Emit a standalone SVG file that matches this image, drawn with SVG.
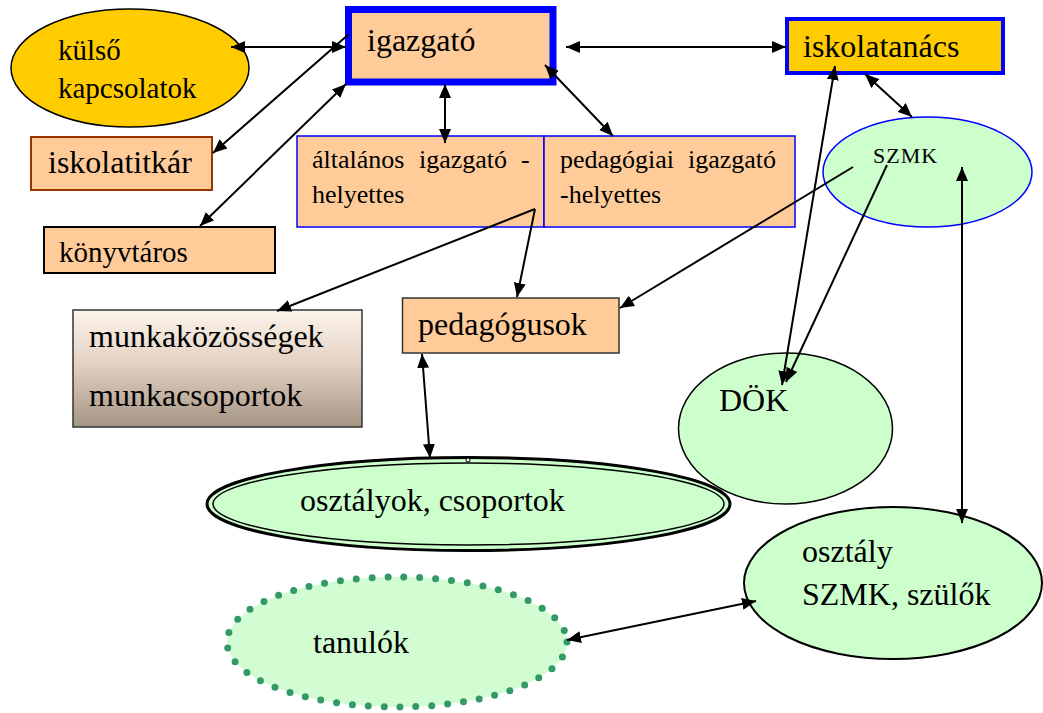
<svg xmlns="http://www.w3.org/2000/svg" width="1043" height="713" viewBox="0 0 1043 713" font-family="'Liberation Serif', 'Times New Roman', serif">
<style>
text{font-family:'Liberation Serif','Times New Roman',serif;fill:#000}
.peach{fill:#FFCC99}
.green{fill:#CCFFCC}
.ln{stroke:#000;stroke-width:2;fill:none}
.t32{font-size:32px}
.t29{font-size:29px}
.t26{font-size:26px}
</style>
<defs>
<marker id="ah" viewBox="0 0 14 12" refX="14" refY="6" markerWidth="7" markerHeight="6" orient="auto-start-reverse" markerUnits="strokeWidth">
<path d="M0,0 L14,6 L0,12 z" fill="#000"/>
</marker>
<linearGradient id="gr" x1="0" y1="0" x2="0" y2="1">
<stop offset="0" stop-color="#FDF4EA"/>
<stop offset="0.45" stop-color="#E4D2C4"/>
<stop offset="1" stop-color="#A59585"/>
</linearGradient>
</defs>
<rect width="1043" height="713" fill="#fff"/>

<g id="kulso">
<ellipse cx="130" cy="68" rx="119" ry="59" fill="#FFCC00" stroke="#000" stroke-width="1.5"/>
<text class="t29" x="58" y="60">külső</text>
<text class="t29" x="58" y="98">kapcsolatok</text>
</g>
<g id="igazgato">
<rect x="348.5" y="9.5" width="204.5" height="72.5" class="peach" stroke="#0000FF" stroke-width="7"/>
<text class="t32" x="367" y="51">igazgató</text>
</g>
<g id="iskolatanacs">
<rect x="787" y="19" width="216" height="54" fill="#FFCC00" stroke="#0000FF" stroke-width="4"/>
<text class="t32" x="803" y="57">iskolatanács</text>
</g>
<g id="iskolatitkar">
<rect x="31" y="137" width="181" height="53" class="peach" stroke="#993300" stroke-width="2"/>
<text class="t32" x="48" y="173">iskolatitkár</text>
</g>
<g id="konyvtaros">
<rect x="44" y="227" width="231" height="46" class="peach" stroke="#000" stroke-width="2"/>
<text class="t29" x="59" y="262">könyvtáros</text>
</g>
<g id="altalanos">
<rect x="297" y="136" width="247" height="91" class="peach" stroke="#0000FF" stroke-width="1.5"/>
<text class="t26" y="168"><tspan x="312">általános</tspan><tspan x="419">igazgató</tspan><tspan x="521">-</tspan></text>
<text class="t26" x="312" y="203">helyettes</text>
</g>
<g id="pedagogiai">
<rect x="544" y="136" width="251" height="91" class="peach" stroke="#0000FF" stroke-width="1.5"/>
<text class="t26" y="168"><tspan x="560">pedagógiai</tspan><tspan x="688">igazgató</tspan></text>
<text class="t26" x="560" y="203">-helyettes</text>
</g>
<g id="szmk">
<ellipse cx="927.5" cy="172" rx="104.5" ry="55" class="green" stroke="#0000FF" stroke-width="1.5"/>
<text x="873" y="163" font-size="22" letter-spacing="1">SZMK</text>
</g>
<g id="munkakozossegek">
<rect x="73" y="310" width="289" height="117" fill="url(#gr)" stroke="#333" stroke-width="1.5"/>
<text class="t32" x="89" y="347">munkaközösségek</text>
<text class="t32" x="89" y="406">munkacsoportok</text>
</g>
<g id="pedagogusok">
<rect x="402.5" y="298" width="216.5" height="55" class="peach" stroke="#333" stroke-width="1.5"/>
<text class="t32" x="418" y="335">pedagógusok</text>
</g>
<g id="dok">
<ellipse cx="785.5" cy="428.5" rx="107" ry="75.5" class="green" stroke="#000" stroke-width="1.5"/>
<text class="t32" x="719" y="411">DÖK</text>
</g>
<g id="osztalyok">
<ellipse cx="468.5" cy="504" rx="261.5" ry="46.5" class="green" stroke="#000" stroke-width="3"/>
<ellipse cx="468.5" cy="504" rx="255.5" ry="41" fill="none" stroke="#000" stroke-width="1.5"/>
<circle cx="468" cy="460" r="2" fill="#fff" stroke="#000" stroke-width="1"/>
<text class="t32" x="300" y="511">osztályok, csoportok</text>
</g>
<g id="osztaly-szmk">
<ellipse cx="893" cy="583" rx="149" ry="76" class="green" stroke="#000" stroke-width="2"/>
<text class="t32" x="802" y="562">osztály</text>
<text class="t32" x="802" y="605">SZMK, szülők</text>
</g>
<g id="tanulok">
<ellipse cx="397" cy="642" rx="170" ry="65" fill="#D2FCD2" stroke="#339966" stroke-width="7" stroke-linecap="round" stroke-dasharray="0 15.9"/>
<text class="t32" x="313" y="653">tanulók</text>
</g>

<g id="connectors" class="ln">
<line x1="231" y1="47" x2="346" y2="47" marker-start="url(#ah)" marker-end="url(#ah)"/>
<line x1="566" y1="47" x2="786" y2="47" marker-start="url(#ah)" marker-end="url(#ah)"/>
<line x1="349" y1="34" x2="213" y2="153" marker-end="url(#ah)"/>
<line x1="346" y1="84" x2="200" y2="226" marker-start="url(#ah)" marker-end="url(#ah)"/>
<line x1="445" y1="84" x2="445" y2="143" marker-start="url(#ah)" marker-end="url(#ah)"/>
<line x1="545" y1="65" x2="613" y2="136" marker-start="url(#ah)" marker-end="url(#ah)"/>
<line x1="535" y1="209" x2="277" y2="311" marker-end="url(#ah)"/>
<line x1="535" y1="209" x2="517" y2="297" marker-end="url(#ah)"/>
<line x1="865" y1="74" x2="912" y2="117" marker-start="url(#ah)" marker-end="url(#ah)"/>
<line x1="835" y1="66" x2="782" y2="385" marker-start="url(#ah)" marker-end="url(#ah)"/>
<line x1="887" y1="165" x2="786" y2="382" marker-end="url(#ah)"/>
<line x1="853" y1="167" x2="620" y2="308" marker-end="url(#ah)"/>
<line x1="962" y1="167" x2="962" y2="523" marker-start="url(#ah)" marker-end="url(#ah)"/>
<line x1="422" y1="354" x2="430" y2="458" marker-start="url(#ah)" marker-end="url(#ah)"/>
<line x1="567" y1="640" x2="756" y2="601" marker-start="url(#ah)" marker-end="url(#ah)"/>
</g>
</svg>
